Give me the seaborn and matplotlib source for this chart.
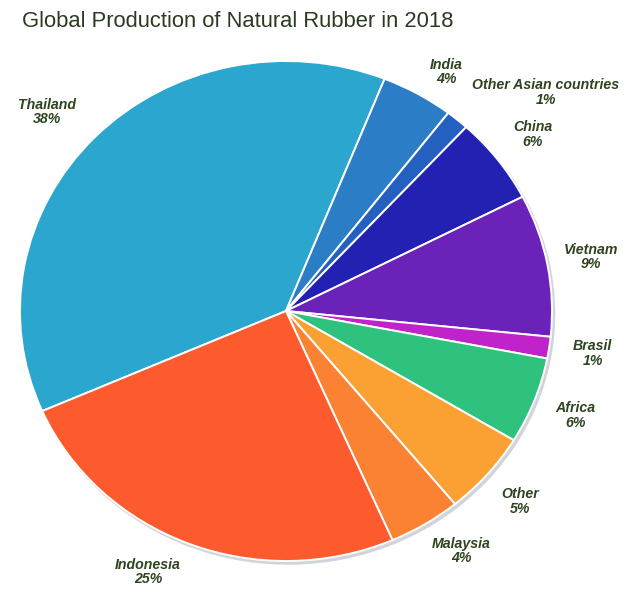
import matplotlib
matplotlib.use("Agg")
import matplotlib.pyplot as plt
import seaborn as sns
import numpy as np

# Share of world natural rubber output, 2018 (percent), clockwise from Thailand
countries = ["Thailand", "India", "Other Asian countries", "China", "Vietnam",
             "Brasil", "Africa", "Other", "Malaysia", "Indonesia"]
shares = [37.6, 4.4, 1.4, 5.6, 9.2, 1.4, 5.6, 5.4, 4.4, 25.0]
slice_colors = ["#2aa6cf", "#2b7dc6", "#2360c0", "#2321b2", "#6a22b8",
                "#c023c9", "#2ec27e", "#fba033", "#fc8233", "#fd5b2e"]

sns.set_theme(style="white")
palette = sns.color_palette(slice_colors)

fig = plt.figure(figsize=(6.26, 5.92), dpi=100)
ax = fig.add_axes([0, 0, 1, 1])

wedges, _ = ax.pie(
    shares,
    colors=palette,
    startangle=203.6,
    counterclock=False,
    wedgeprops=dict(edgecolor="white", linewidth=1.4),
    shadow=dict(ox=0.006, oy=-0.008, facecolor="#d2d4db", edgecolor="#d2d4db", alpha=1.0),
)

# Stretch the pie slightly wider than tall
ax.set_aspect("auto")
ax.set_xlim(-1.075, 1.278)
ax.set_ylim(-1.124, 1.244)
ax.axis("off")

label_color = "#2e4420"
label_dist = {"India": 1.13, "Other Asian countries": 1.31, "Thailand": 1.2}
label_angle_shift = {"India": -2.5, "Other Asian countries": -8.0, "Malaysia": 3.0,
                     "Indonesia": -5.0, "Thailand": 2.5}
for w, name, val in zip(wedges, countries, shares):
    mid = 0.5 * (w.theta1 + w.theta2) + label_angle_shift.get(name, 0.0)
    r = label_dist.get(name, 1.165)
    x = r * np.cos(np.deg2rad(mid))
    y = r * np.sin(np.deg2rad(mid))
    ax.text(x, y, f"{name}\n{val:.0f}%", ha="center", va="center",
            fontsize=10.2, fontweight="bold", fontstyle="italic",
            family="Liberation Sans", color=label_color, linespacing=1.05)

fig.text(0.035, 0.963, "Global Production of Natural Rubber in 2018",
         ha="left", va="center", fontsize=15.8, family="Liberation Sans",
         color="#2b3b22")

fig.savefig("out.png", dpi=100, facecolor="white")
